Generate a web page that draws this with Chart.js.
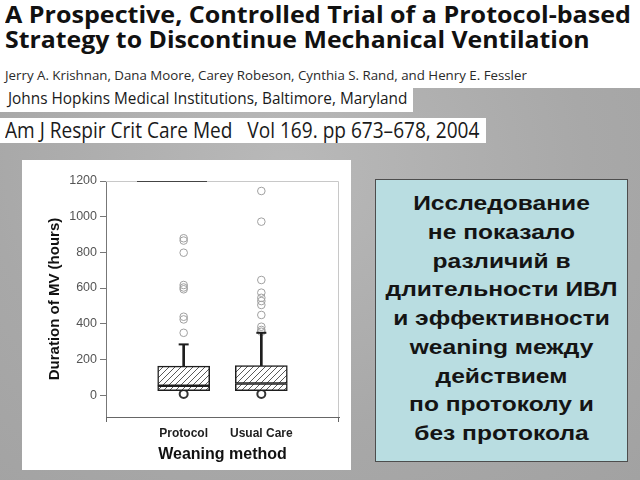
<!DOCTYPE html>
<html>
<head>
<meta charset="utf-8">
<script src="https://cdn.jsdelivr.net/npm/chart.js@4/dist/chart.umd.min.js"></script>
<style>
  body {
    margin: 0;
    width: 640px;
    height: 480px;
    overflow: hidden;
    position: relative;
    background: radial-gradient(ellipse at 45% 35%, #b9b9b9 0%, #a8a8a8 60%, #a2a2a2 100%);
    font-family: "Liberation Sans", Arial, sans-serif;
  }
  .white { position: absolute; background: #fff; }
  .fit { position: absolute; white-space: nowrap; transform-origin: 0 0; color: #1a1a1a; }
  .title { font-family: "Open Sans", sans-serif; font-weight: 700; font-size: 24px; line-height: 24px; color: #111; }
  .authors { font-family: "Open Sans", sans-serif; font-size: 12.5px; line-height: 14px; color: #2a2a2a; }
  .aff { font-family: "Open Sans", sans-serif; font-size: 17px; line-height: 20px; }
  .journal { font-family: "Open Sans", sans-serif; font-size: 21px; line-height: 24px; }
  #panel { position: absolute; left: 22px; top: 160px; width: 329px; height: 310px; background: #fff; }
  #note {
    position: absolute; left: 375px; top: 179px; width: 253px; height: 283px;
    background: #b9dde1; border: 1px solid #4d4d4d; box-sizing: border-box;
  }
  #note div {
    font-weight: 700; font-size: 21px; line-height: 28.75px; color: #141414;
    text-align: center; padding-top: 9px; transform: scaleX(1.17); transform-origin: 50% 0;
  }
</style>
</head>
<body>
<div class="white" style="left:0;top:0;width:640px;height:88px"></div>
<div class="white" style="left:0;top:88px;width:413px;height:24px"></div>
<div class="white" style="left:0;top:118px;width:486px;height:25px"></div>

<div class="fit title" data-w="626" style="left:5px;top:2px">A Prospective, Controlled Trial of a Protocol-based</div>
<div class="fit title" data-w="585" style="left:5px;top:27px">Strategy to Discontinue Mechanical Ventilation</div>
<div class="fit authors" data-w="522" style="left:5px;top:69px">Jerry A. Krishnan, Dana Moore, Carey Robeson, Cynthia S. Rand, and Henry E. Fessler</div>
<div class="fit aff" data-w="399" style="left:8px;top:88px">Johns Hopkins Medical Institutions, Baltimore, Maryland</div>
<div class="fit journal" data-w="474" style="left:5px;top:118px">Am J Respir Crit Care Med&nbsp;&nbsp; Vol 169. pp 673–678, 2004</div>

<div id="panel"><canvas id="chart" width="329" height="310"></canvas></div>

<div id="note"><div>Исследование<br>не показало<br>различий в<br>длительности ИВЛ<br>и эффективности<br>weaning между<br>действием<br>по протоколу и<br>без протокола</div></div>

<script>
const CATEGORIES = ['Protocol', 'Usual Care'];
const Q1 = [24, 24];
const MEDIAN = [52, 65];
const Q3 = [162, 165];
const WHISKER_TOP = [284, 349];
const OUTLIERS = [
  [879, 866, 798, 617, 603, 593, 439, 424, 349],
  [1144, 972, 645, 574, 545, 527, 505, 449, 383, 365, 355]
];
const LOW_POINTS = [6, 6];
const Y_TICKS = [0, 200, 400, 600, 800, 1000, 1200];

// stretch each header line to the width it has on the slide
document.querySelectorAll('.fit').forEach((el) => {
  const target = Number(el.dataset.w);
  el.style.transform = `scaleX(${target / el.offsetWidth})`;
});

function hatchPattern() {
  const c = document.createElement('canvas');
  c.width = 6;
  c.height = 6;
  const g = c.getContext('2d');
  g.fillStyle = '#ffffff';
  g.fillRect(0, 0, 6, 6);
  g.strokeStyle = '#5a5a5a';
  g.lineWidth = 1;
  g.beginPath();
  g.moveTo(-1, 7); g.lineTo(7, -1);
  g.moveTo(-1, 1); g.lineTo(1, -1);
  g.moveTo(5, 7); g.lineTo(7, 5);
  g.stroke();
  return g.createPattern(c, 'repeat');
}

const hatch = hatchPattern();
const pos = (i) => i + 1;

// light frame around the plot, darker piece on top, end ticks on the x axis
const frame = {
  id: 'frame',
  afterDraw(chart) {
    const { ctx, chartArea: a } = chart;
    ctx.save();
    ctx.lineWidth = 1;
    ctx.strokeStyle = '#c8c8c8';
    ctx.beginPath();
    ctx.moveTo(a.left, a.top + 0.5);
    ctx.lineTo(a.right - 0.5, a.top + 0.5);
    ctx.lineTo(a.right - 0.5, a.bottom);
    ctx.stroke();
    ctx.strokeStyle = '#444';
    ctx.beginPath();
    ctx.moveTo(a.left + 31, a.top + 0.5);
    ctx.lineTo(a.left + 101, a.top + 0.5);
    ctx.stroke();
    ctx.strokeStyle = '#666';
    ctx.beginPath();
    ctx.moveTo(a.left + 0.5, a.bottom);
    ctx.lineTo(a.left + 0.5, a.bottom + 5);
    ctx.moveTo(a.right - 0.5, a.bottom);
    ctx.lineTo(a.right - 0.5, a.bottom + 5);
    ctx.stroke();
    ctx.restore();
  }
};

const boxStyle = {
  backgroundColor: hatch,
  borderColor: '#1e1e1e',
  borderWidth: 1.5,
  borderSkipped: false,
  barThickness: 52,
  grouped: false
};

new Chart(document.getElementById('chart'), {
  type: 'bar',
  data: {
    datasets: [
      {
        label: 'whisker',
        data: CATEGORIES.map((c, i) => ({ x: pos(i), y: [Q3[i], WHISKER_TOP[i]] })),
        backgroundColor: '#1e1e1e',
        borderWidth: 0,
        barThickness: 2,
        grouped: false
      },
      {
        label: 'lower box',
        data: CATEGORIES.map((c, i) => ({ x: pos(i), y: [Q1[i], MEDIAN[i]] })),
        ...boxStyle
      },
      {
        label: 'upper box',
        data: CATEGORIES.map((c, i) => ({ x: pos(i), y: [MEDIAN[i], Q3[i]] })),
        ...boxStyle
      },
      {
        type: 'scatter',
        label: 'cap',
        data: CATEGORIES.map((c, i) => ({ x: pos(i), y: WHISKER_TOP[i] })),
        pointStyle: 'line',
        radius: 5,
        borderWidth: 2,
        borderColor: '#1e1e1e'
      },
      {
        type: 'scatter',
        label: 'outliers',
        data: OUTLIERS.flatMap((vals, i) => vals.map((v) => ({ x: pos(i), y: v }))),
        pointStyle: 'circle',
        radius: 3.8,
        borderWidth: 1,
        borderColor: '#a0a0a0',
        backgroundColor: 'rgba(0,0,0,0)'
      },
      {
        type: 'scatter',
        label: 'low',
        data: LOW_POINTS.map((v, i) => ({ x: pos(i), y: v })),
        pointStyle: 'circle',
        radius: 4,
        borderWidth: 2,
        borderColor: '#333',
        backgroundColor: 'rgba(0,0,0,0)'
      }
    ]
  },
  options: {
    responsive: false,
    animation: false,
    layout: { padding: { top: 21, right: 12, left: 0, bottom: 0 } },
    plugins: { legend: { display: false }, tooltip: { enabled: false } },
    scales: {
      x: {
        type: 'linear',
        offset: false,
        min: 0,
        max: 3,
        afterBuildTicks: (axis) => { axis.ticks = CATEGORIES.map((c, i) => ({ value: pos(i) })); },
        afterFit: (axis) => { axis.height = 53; },
        grid: { display: false, drawTicks: false },
        border: { display: true, color: '#666', width: 1 },
        ticks: {
          padding: 9,
          color: '#1e1e1e',
          font: { family: 'Liberation Sans', size: 12, weight: 'bold' },
          callback: (v) => CATEGORIES[v - 1] || ''
        },
        title: {
          display: true,
          text: 'Weaning method',
          color: '#111',
          font: { family: 'Liberation Sans', size: 16, weight: 'bold' },
          padding: { top: 0, bottom: 6 }
        }
      },
      y: {
        min: -123,
        max: 1200,
        afterBuildTicks: (axis) => { axis.ticks = Y_TICKS.map((v) => ({ value: v })); },
        afterFit: (axis) => { axis.width = 84; },
        grid: { drawOnChartArea: false, drawTicks: true, tickLength: 6, color: '#777' },
        border: { display: true, color: '#777', width: 1 },
        ticks: {
          padding: 3,
          color: '#555',
          font: { family: 'Liberation Sans', size: 12.5 },
          callback: (v) => String(v)
        },
        title: {
          display: true,
          text: 'Duration of MV (hours)',
          color: '#111',
          font: { family: 'Liberation Sans', size: 15, weight: 'bold' },
          padding: { top: 24, bottom: 0 }
        }
      }
    }
  },
  plugins: [frame]
});
</script>
</body>
</html>
